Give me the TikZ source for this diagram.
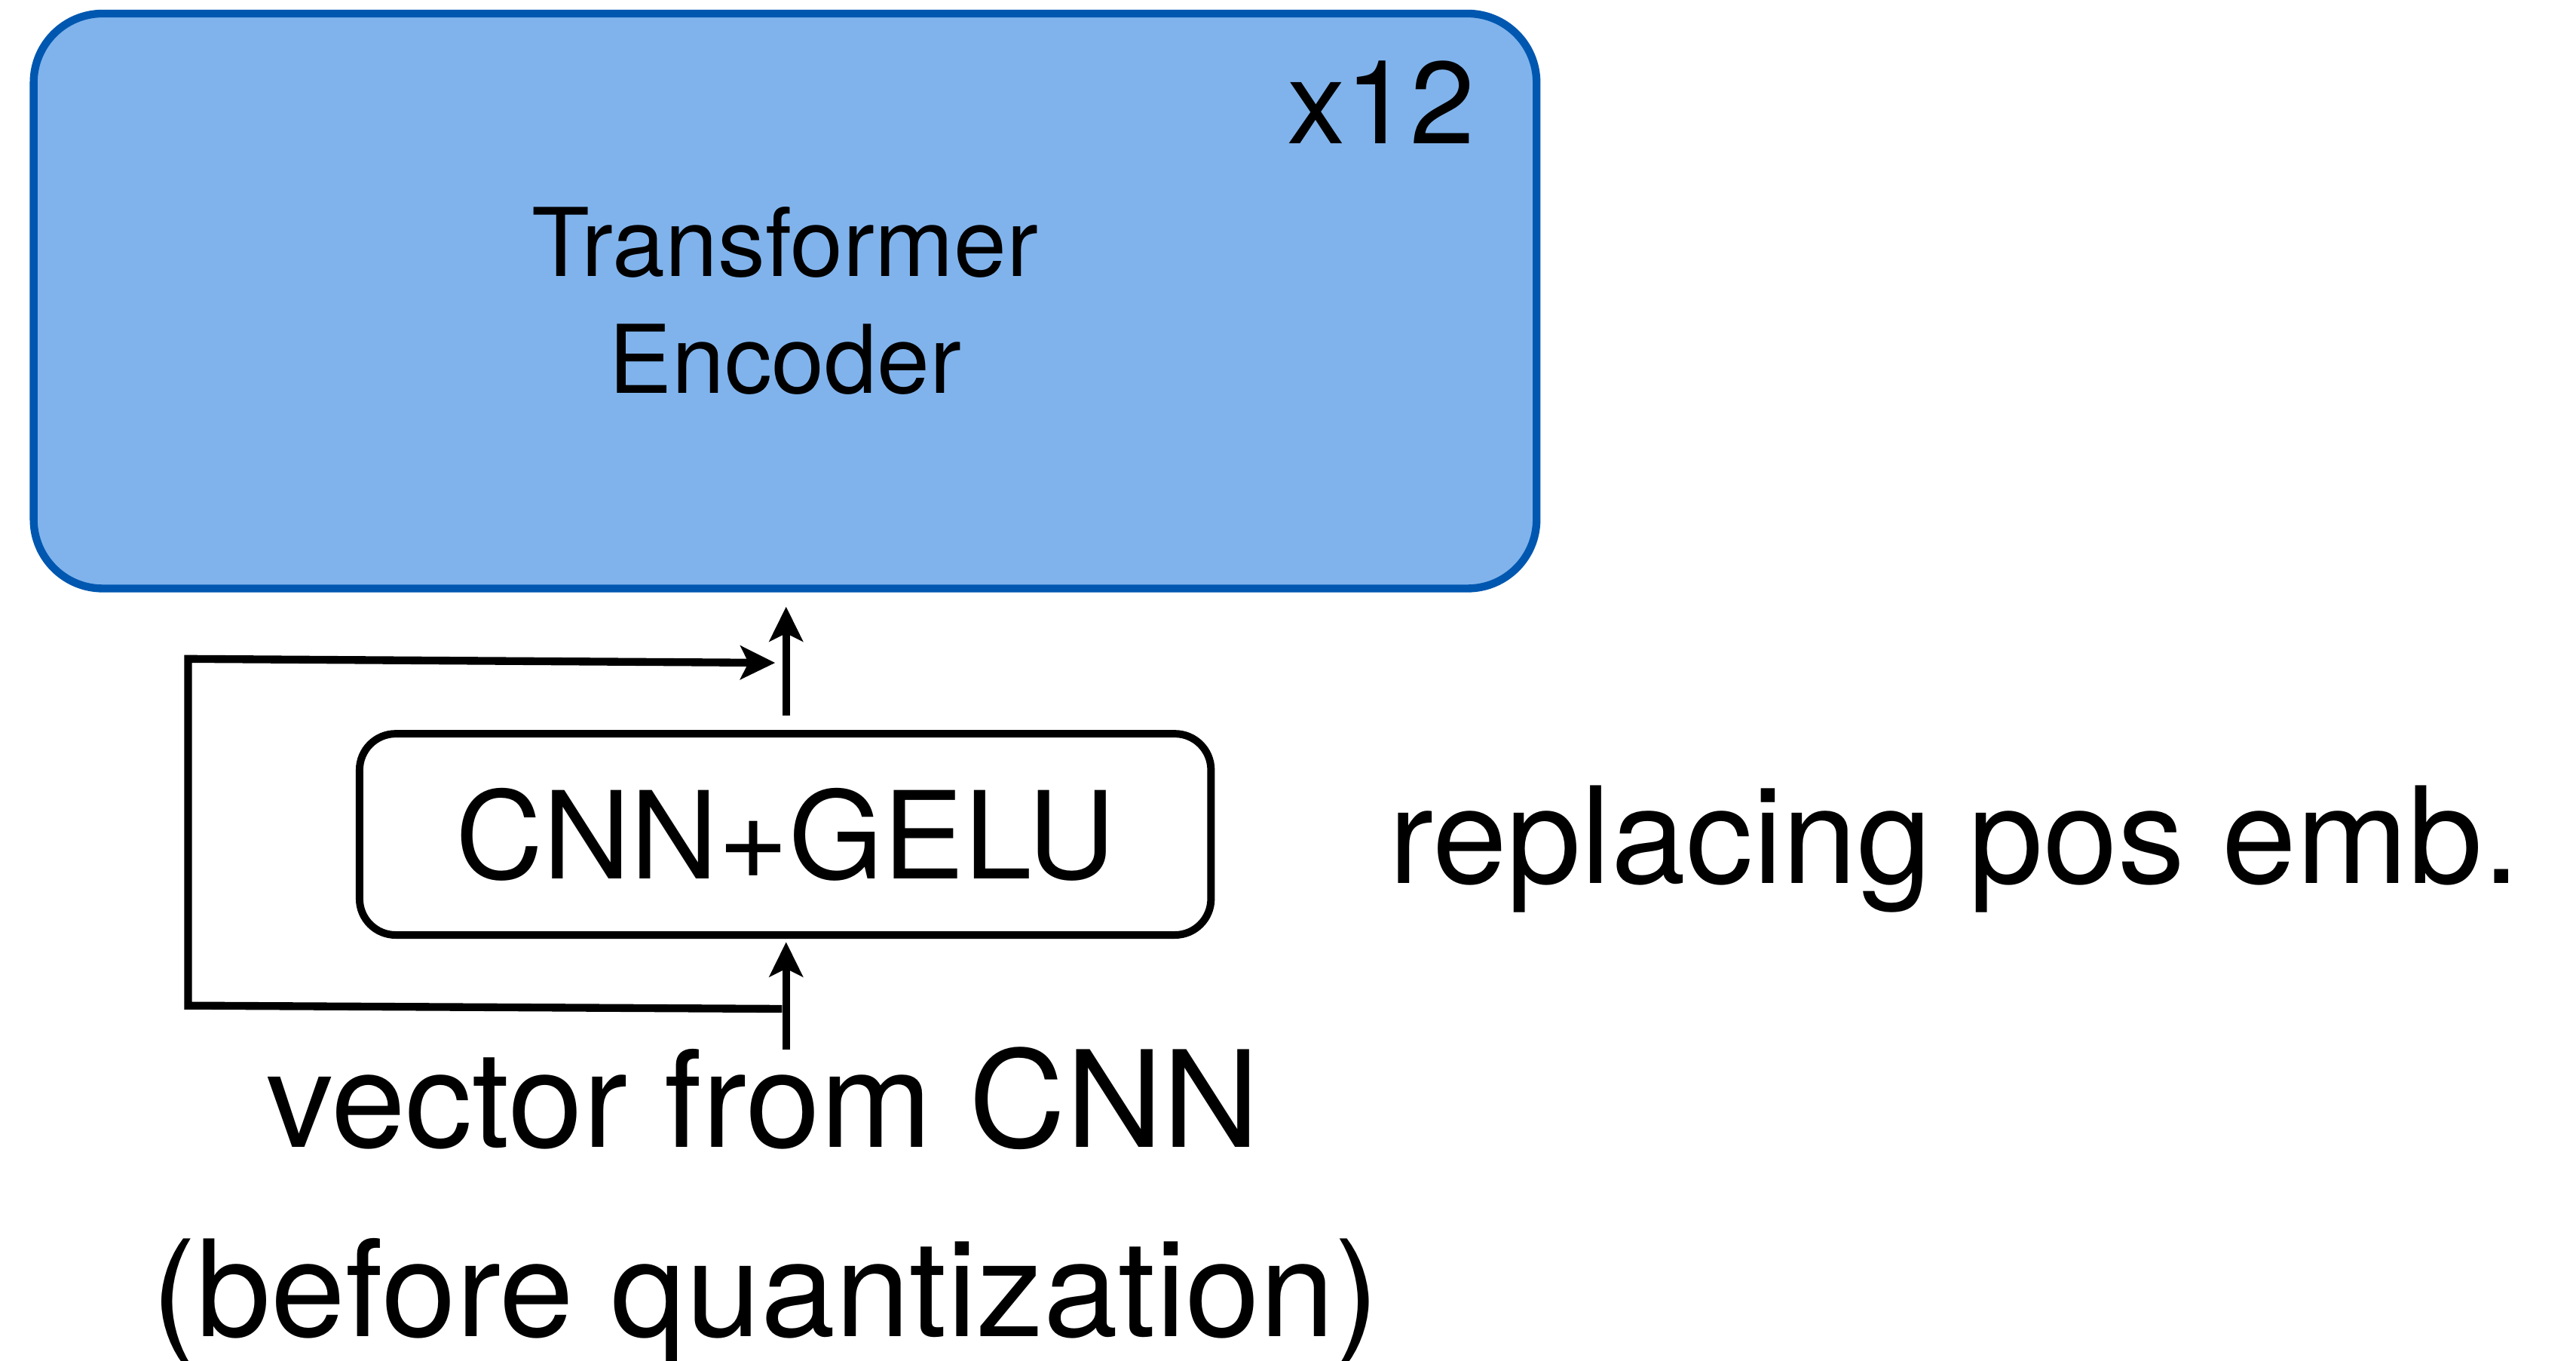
\documentclass[tikz,border=0pt]{standalone}
\usepackage{fontspec}
\setmainfont{TeX Gyre Heros}
\usetikzlibrary{arrows.meta}

\definecolor{encfill}{RGB}{128,179,236}
\definecolor{encline}{RGB}{0,87,176}

\tikzset{
  encbox/.style={draw=encline, fill=encfill, line width=1.35pt,
    rounded corners=0.42cm, inner sep=0pt, align=center,
    minimum width=9.143cm, minimum height=3.497cm,
    font=\fontsize{16.4}{20.2}\selectfont},
  opbox/.style={draw=black, line width=1.3pt, rounded corners=0.22cm,
    inner sep=0pt, minimum width=5.18cm, minimum height=1.224cm,
    font=\fontsize{21}{24}\selectfont},
  bigtext/.style={inner sep=0pt, font=\fontsize{23.2}{27}\selectfont},
  conn/.style={draw=black, line width=1.35pt,
    -{Stealth[length=6pt, width=5.8pt, inset=1.4pt]}}
}

\begin{document}
\begin{tikzpicture}[x=0.01cm, y=-0.01cm]
  \useasboundingbox (0,0) rectangle (1568,828);

  % stacked encoder block
  \node[encbox] (enc) at (477.9,183.2) {Transformer\\Encoder};
  \node[inner sep=0pt, anchor=base east, font=\fontsize{20.2}{24}\selectfont]
    (reps) at (898.6,87.6) {x12};

  % convolutional positional module
  \node[opbox] (cnn) at (478,507.8) {CNN+GELU};
  \node[bigtext, anchor=base west] (note) at (844.8,537.7) {replacing pos emb.};

  % input description
  \node[bigtext, anchor=base] (inlbl) at (464.5,698.3) {vector from CNN};
  \node[bigtext, anchor=base] (inlbl2) at (466,813.5) {(before quantization)};

  % connector end points
  \coordinate (src) at (478.5,639);
  \coordinate (tap) at (476,614);
  \coordinate (loopbl) at (114.5,612);
  \coordinate (looptl) at (114.5,401);
  \coordinate (merge) at (471.8,403.4);

  % main data path
  \draw[conn, shorten >=0.02cm] (src) -- (src |- cnn.south);
  \draw[conn, shorten <=0.088cm, shorten >=0.087cm]
    ([xshift=0.005cm]cnn.north) -- ([xshift=0.005cm]cnn.north |- enc.south);

  % residual bypass around the module
  \draw[conn, line join=miter] (tap) -- (loopbl) -- (looptl) -- (merge);
\end{tikzpicture}
\end{document}
